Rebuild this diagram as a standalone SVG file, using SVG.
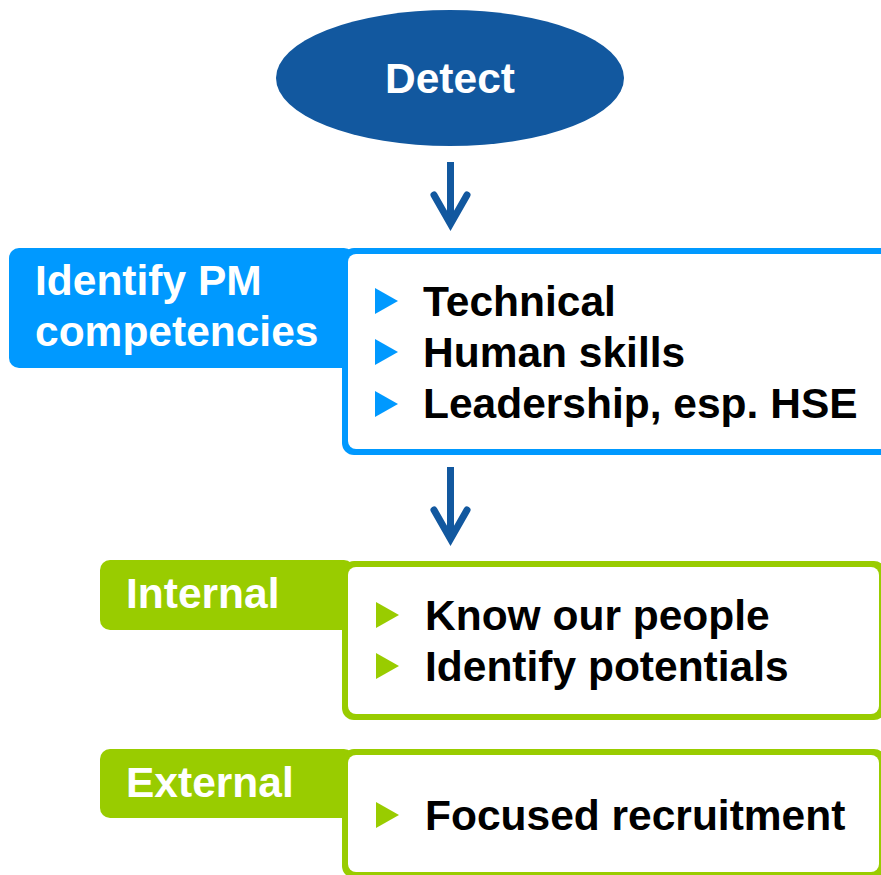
<svg xmlns="http://www.w3.org/2000/svg" width="881" height="875" viewBox="0 0 881 875">
  <style>
    .t { font-family: "Liberation Sans", Arial, sans-serif; font-weight: bold; font-size: 42.5px; }
    .w { fill: #FFFFFF; }
    .k { fill: #000000; }
    .blue { fill: #0099FF; }
    .green { fill: #99CC00; }
    .white { fill: #FFFFFF; }
    .arrow { fill: none; stroke: #12589F; stroke-width: 7; }
  </style>
  <rect width="881" height="875" fill="#FFFFFF"/>

  <g id="detect">
    <ellipse cx="450" cy="78" rx="174" ry="68" fill="#12589F"/>
    <text class="t w" x="450" y="93" text-anchor="middle">Detect</text>
  </g>

  <g id="identify">
    <rect class="blue" x="9" y="248" width="345" height="120" rx="10"/>
    <rect class="blue" x="342" y="248" width="600" height="207" rx="12"/>
    <rect class="white" x="348" y="254" width="600" height="195" rx="8"/>
    <text class="t w" x="35" y="295">Identify PM</text>
    <text class="t w" x="35" y="346">competencies</text>
    <polygon class="blue" points="375,288 398,301 375,314"/>
    <polygon class="blue" points="375,339 398,352 375,365"/>
    <polygon class="blue" points="375,391 398,404 375,417"/>
    <text class="t k" x="423" y="316">Technical</text>
    <text class="t k" x="423" y="367">Human skills</text>
    <text class="t k" x="423" y="418">Leadership, esp. HSE</text>
  </g>

  <g id="internal">
    <rect class="green" x="100" y="560" width="254" height="70" rx="10"/>
    <rect class="green" x="342" y="561" width="544" height="159" rx="12"/>
    <rect class="white" x="348" y="567" width="531" height="147" rx="8"/>
    <text class="t w" x="126" y="608">Internal</text>
    <polygon class="green" points="376,602 399,615 376,628"/>
    <polygon class="green" points="376,653 399,666 376,679"/>
    <text class="t k" x="425" y="630">Know our people</text>
    <text class="t k" x="425" y="681">Identify potentials</text>
  </g>

  <g id="external">
    <rect class="green" x="100" y="749" width="254" height="69" rx="10"/>
    <rect class="green" x="342" y="749" width="544" height="129" rx="12"/>
    <rect class="white" x="348" y="755" width="531" height="117" rx="8"/>
    <text class="t w" x="126" y="797">External</text>
    <polygon class="green" points="376,802 399,815 376,828"/>
    <text class="t k" x="425" y="830">Focused recruitment</text>
  </g>

  <g id="connectors">
    <path class="arrow" d="M450.5,162 V224"/>
    <path class="arrow" d="M434,195 L450.5,224 L467,195" stroke-linecap="round" stroke-linejoin="miter"/>
    <path class="arrow" d="M450.5,467 V539"/>
    <path class="arrow" d="M434,510 L450.5,539 L467,510" stroke-linecap="round" stroke-linejoin="miter"/>
  </g>
</svg>
